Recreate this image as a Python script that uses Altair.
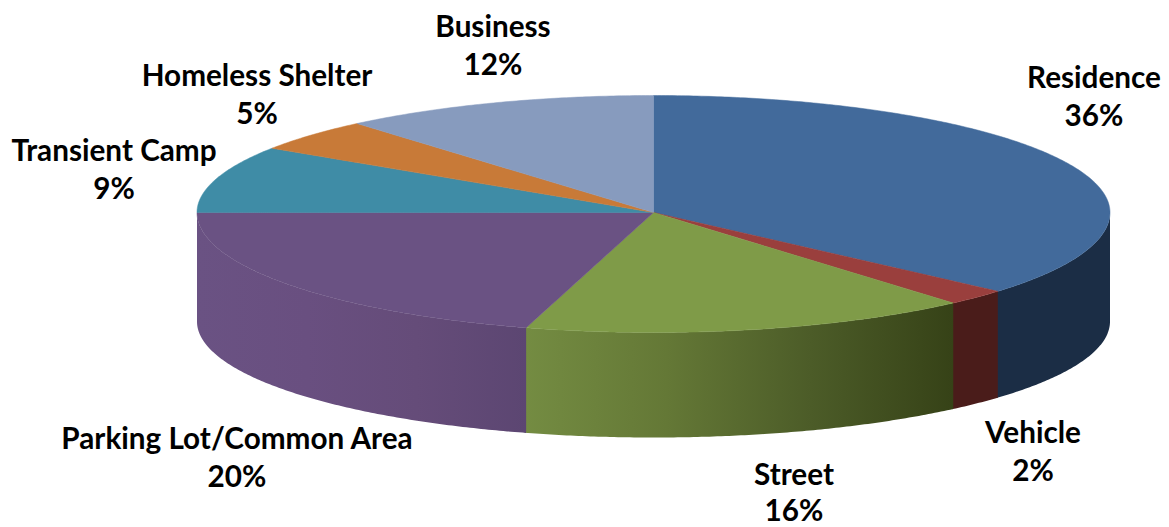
import numpy as np
import pandas as pd
import altair as alt

# --- values ---
categories = ["Residence", "Vehicle", "Street", "Parking Lot/Common Area",
              "Transient Camp", "Homeless Shelter", "Business"]
shares = [36.4, 2.2, 15.9, 20.5, 9.25, 4.5, 11.25]
percent_labels = ["36%", "2%", "16%", "20%", "9%", "5%", "12%"]

# --- styles ---
top_colors = ["#426A9B", "#9A3F3D", "#7F9B48", "#6A5283", "#3F8CA6", "#C87A38", "#879BBE"]
wall_stops = [
    ["#1B2D45", "#1B2D45"],
    ["#4A1C1A", "#4A1C1A"],
    ["#748C42", "#647836", "#4C5C28", "#364217"],
    ["#6A5283", "#694F80", "#654C79", "#5C4672"],
]

# --- layout ---
CX, CY, RX, RY_BACK, RY_FRONT = 653.5, 212.5, 456.5, 117.0, 120.0
DEPTH_SIDE, DEPTH_FRONT = 109.0, 105.0
X0, Y0 = 8, 8
W, H = 1161, 535
FONT = "Lato"
FONT_SIZE = 29.7
label_centers = [(1094, 78.5), (1033, 433.5), (794, 476), (237, 439.5),
                 (114, 151.5), (257, 76.5), (493, 27.5)]
line_gaps = [38.5, 38.5, 35.5, 38.5, 38.5, 38.5, 38.5]

x_scale = alt.Scale(domain=[X0, W], range=[0, W - X0], nice=False, zero=False)
y_scale = alt.Scale(domain=[Y0, H], range=[0, H - Y0], nice=False, zero=False)


def rim(t_deg):
    t = np.radians(t_deg)
    c = np.cos(t)
    return CX + RX * np.sin(t), CY - np.where(c >= 0, RY_BACK, RY_FRONT) * c


def wedge_table(t0, t1):
    ts = np.arange(t0, t1, 0.5).tolist() + [t1]
    ax, ay = rim(np.array(ts))
    px = [CX] + ax.tolist()
    py = [CY] + ay.tolist()
    n = len(px)
    rows = []
    for x in sorted(set(px)):
        ys = []
        for i in range(n):
            x1, y1, x2, y2 = px[i], py[i], px[(i + 1) % n], py[(i + 1) % n]
            if min(x1, x2) <= x <= max(x1, x2):
                if x1 == x2:
                    ys += [y1, y2]
                else:
                    ys.append(y1 + (y2 - y1) * (x - x1) / (x2 - x1))
        rows.append({"x": x, "y": min(ys), "y2": max(ys)})
    return pd.DataFrame(rows)


def wall_table(t0, t1):
    ts = np.array(np.arange(t0, t1, 0.5).tolist() + [t1])
    ax, ay = rim(ts)
    depth = DEPTH_SIDE - (DEPTH_SIDE - DEPTH_FRONT) * np.abs(np.cos(np.radians(ts)))
    df = pd.DataFrame({"x": ax, "y": ay, "y2": ay + depth})
    return df.sort_values("x")


def area_layer(df, **mark_kw):
    return alt.Chart(df).mark_area(**mark_kw).encode(
        x=alt.X("x:Q", scale=x_scale, axis=None),
        y=alt.Y("y:Q", scale=y_scale, axis=None, stack=None),
        y2="y2:Q",
    )


edges = np.concatenate([[0], np.cumsum(shares)]) / sum(shares) * 360.0
layers = []

# side walls of the slices on the front half of the disc; each runs a hair
# under the next one so no white seam shows between them
for i, stops in enumerate(wall_stops):
    t0 = max(edges[i], 90.0)
    t1 = min(edges[i + 1] + 0.2, 270.0)
    grad = alt.Gradient(
        gradient="linear", x1=0, x2=1, y1=0, y2=0,
        stops=[alt.GradientStop(offset=k / (len(stops) - 1), color=c)
               for k, c in enumerate(stops)],
    )
    layers.append(area_layer(wall_table(t0, t1), color=grad))

# top faces
for i, c in enumerate(top_colors):
    layers.append(area_layer(wedge_table(edges[i], edges[i + 1]),
                             color=c, stroke=c, strokeWidth=0.5))

# labels
labels = pd.DataFrame({
    "text": categories + percent_labels,
    "x": [p[0] for p in label_centers] * 2,
    "y": [p[1] for p in label_centers]
         + [p[1] + g for p, g in zip(label_centers, line_gaps)],
})
layers.append(
    alt.Chart(labels).mark_text(
        font=FONT, fontSize=FONT_SIZE, fontWeight="bold", color="#000000",
        align="center", baseline="middle",
    ).encode(
        x=alt.X("x:Q", scale=x_scale, axis=None),
        y=alt.Y("y:Q", scale=y_scale, axis=None),
        text="text:N",
    )
)

chart = alt.layer(*layers).properties(
    width=W - X0, height=H - Y0, padding=0, autosize="none", background="#FFFFFF",
).configure_view(stroke=None)

chart.save("out.html", embed_options={"renderer": "svg", "actions": False})
